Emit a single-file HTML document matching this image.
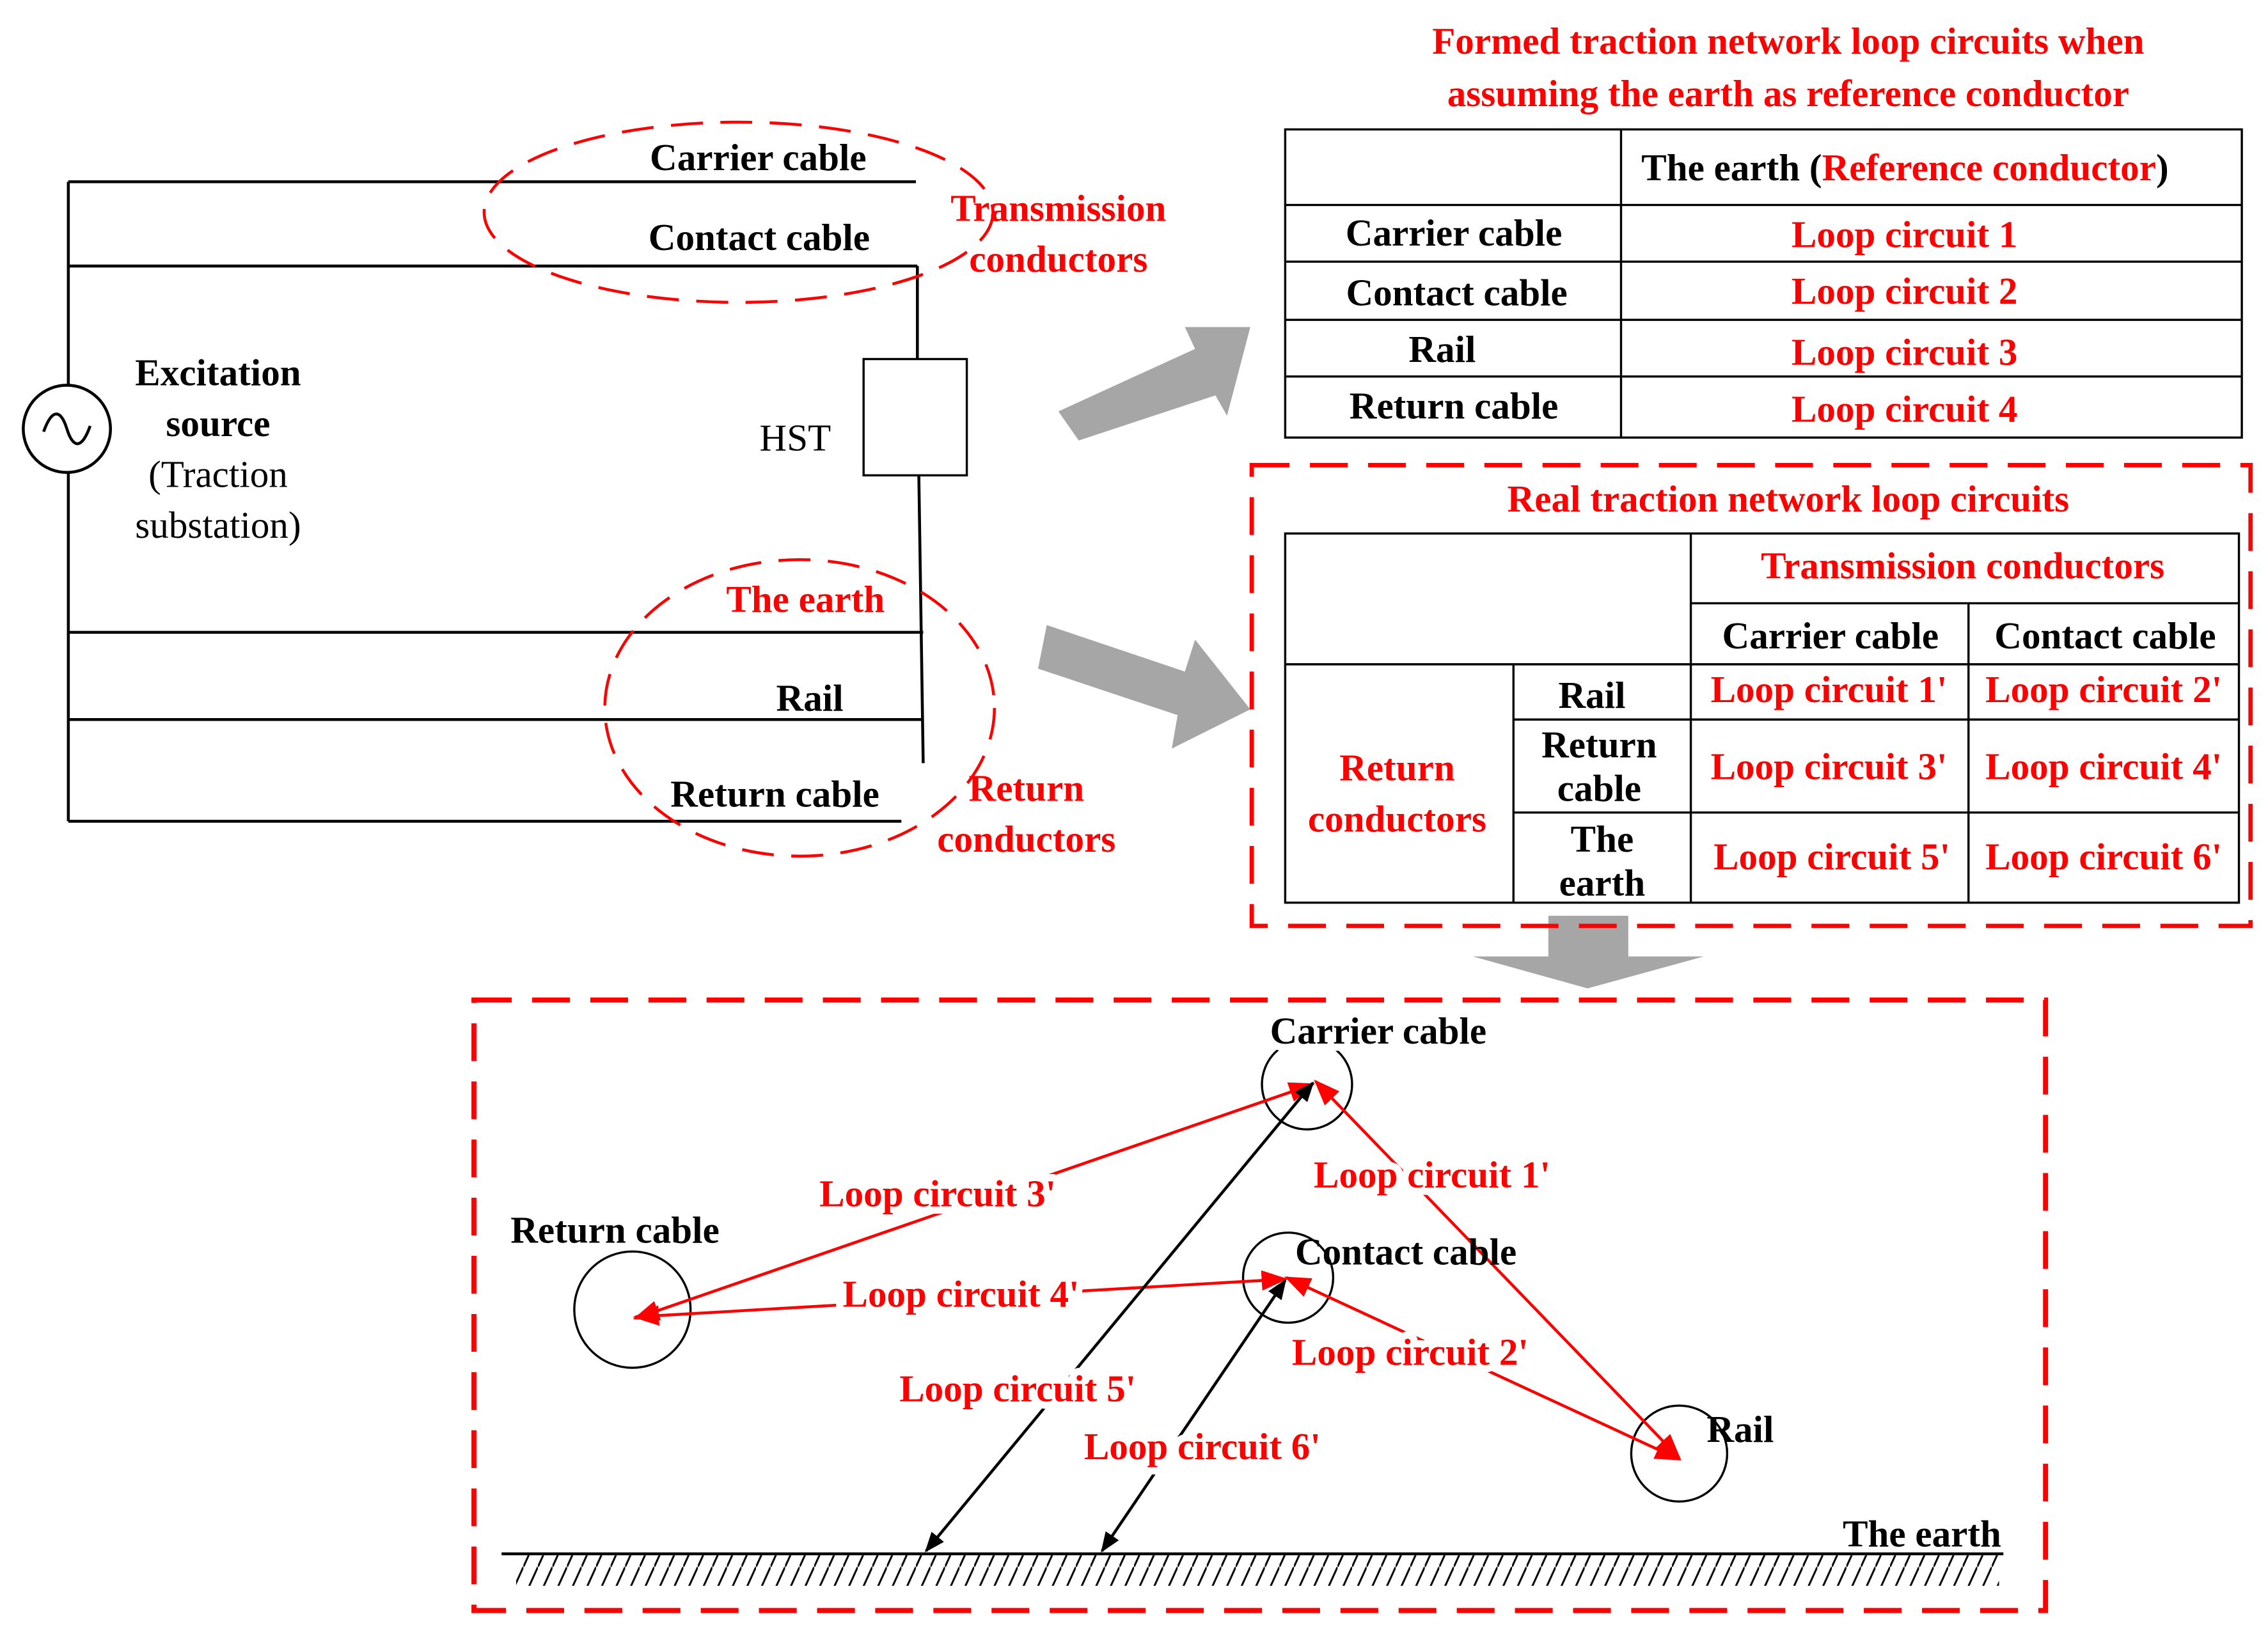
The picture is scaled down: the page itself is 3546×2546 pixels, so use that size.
<!DOCTYPE html>
<html><head><meta charset="utf-8"><style>
html,body{margin:0;padding:0;background:#fff;}
svg{display:block;}
text{font-family:"Liberation Serif",serif;}
.b{font-weight:bold;font-size:26px;fill:#000;}
.r{font-weight:bold;font-size:26px;fill:#f00;}
.n{font-size:26px;fill:#000;}
.m{paint-order:stroke;stroke:#fff;stroke-width:10px;stroke-linejoin:round;}
</style></head><body>
<svg width="3546" height="2546" viewBox="0 0 1560 1120" xmlns="http://www.w3.org/2000/svg">
<defs>
<marker id="ar" viewBox="0 0 10 10" refX="9" refY="5" markerWidth="18" markerHeight="14" orient="auto-start-reverse" markerUnits="userSpaceOnUse" preserveAspectRatio="none"><path d="M0,0 L10,5 L0,10 Z" fill="#f00"/></marker>
<marker id="ab" viewBox="0 0 10 10" refX="9" refY="5" markerWidth="14" markerHeight="11" orient="auto-start-reverse" markerUnits="userSpaceOnUse" preserveAspectRatio="none"><path d="M0,0 L10,5 L0,10 Z" fill="#000"/></marker>
<pattern id="h" width="10" height="22" patternUnits="userSpaceOnUse"><line x1="0" y1="22" x2="10" y2="0" stroke="#000" stroke-width="1.3"/></pattern>
</defs>
<rect width="1560" height="1120" fill="#fff"/>

<g stroke="#000" stroke-width="2" fill="none">
<line x1="47" y1="125" x2="630" y2="125"/>
<line x1="47" y1="183" x2="631" y2="183"/>
<line x1="47" y1="125" x2="47" y2="565"/>
<line x1="631" y1="183" x2="631" y2="247"/>
<rect x="594" y="247" width="71" height="80" stroke-width="1.5"/>
<line x1="632" y1="327" x2="635" y2="525"/>
<line x1="47" y1="435" x2="635" y2="435"/>
<line x1="47" y1="495" x2="635" y2="495"/>
<line x1="47" y1="565" x2="620" y2="565"/>
<circle cx="46" cy="295" r="30" fill="#fff"/>
<path d="M30,297 C36,280 42,282 46,295 C50,308 56,310 62,293"/>
</g>
<text class="b" x="447" y="117">Carrier cable</text>
<text class="b" x="446" y="172">Contact cable</text>
<text class="b" x="150" y="265" text-anchor="middle">Excitation</text>
<text class="b" x="150" y="300" text-anchor="middle">source</text>
<text class="n" x="150" y="335" text-anchor="middle">(Traction</text>
<text class="n" x="150" y="370" text-anchor="middle">substation)</text>
<text class="n" x="547" y="310" text-anchor="middle">HST</text>
<ellipse cx="508" cy="146" rx="175" ry="62" fill="none" stroke="#f00" stroke-width="2" stroke-dasharray="22,12"/>
<text class="r" x="728" y="152" text-anchor="middle">Transmission</text>
<text class="r" x="728" y="187" text-anchor="middle">conductors</text>
<ellipse cx="550" cy="487" rx="134" ry="102" fill="none" stroke="#f00" stroke-width="2" stroke-dasharray="22,12"/>
<text class="r" x="554" y="421" text-anchor="middle">The earth</text>
<text class="b" x="557" y="489" text-anchor="middle">Rail</text>
<text class="b" x="533" y="555" text-anchor="middle">Return cable</text>
<text class="r" x="706" y="551" text-anchor="middle">Return</text>
<text class="r" x="706" y="586" text-anchor="middle">conductors</text>

<g fill="#a6a6a6">
<polygon points="728,283 822,240 815,225 860,225 844,286 836,272 742,303"/>
<polygon points="720,430 815,462 822,440 860,488 806,515 810,492 714,460"/>
<polygon points="1065,630 1120,630 1120,658 1172,658 1092,680 1013,658 1065,658"/>
</g>

<text class="r" x="1230" y="37" text-anchor="middle">Formed traction network loop circuits when</text>
<text class="r" x="1230" y="73" text-anchor="middle">assuming the earth as reference conductor</text>
<g stroke="#000" stroke-width="1.5" fill="none">
<rect x="884" y="89" width="658" height="212"/>
<line x1="1115" y1="89" x2="1115" y2="301"/>
<line x1="884" y1="141" x2="1542" y2="141"/>
<line x1="884" y1="180" x2="1542" y2="180"/>
<line x1="884" y1="220" x2="1542" y2="220"/>
<line x1="884" y1="259" x2="1542" y2="259"/>
</g>
<text class="b" x="1129" y="124">The earth (<tspan fill="#f00">Reference conductor</tspan>)</text>
<text class="b" x="1000" y="169" text-anchor="middle">Carrier cable</text>
<text class="b" x="1002" y="210" text-anchor="middle">Contact cable</text>
<text class="b" x="992" y="249" text-anchor="middle">Rail</text>
<text class="b" x="1000" y="288" text-anchor="middle">Return cable</text>
<text class="r" x="1310" y="170" text-anchor="middle">Loop circuit 1</text>
<text class="r" x="1310" y="209" text-anchor="middle">Loop circuit 2</text>
<text class="r" x="1310" y="251" text-anchor="middle">Loop circuit 3</text>
<text class="r" x="1310" y="290" text-anchor="middle">Loop circuit 4</text>

<rect x="861" y="320" width="687" height="317" fill="none" stroke="#f00" stroke-width="3" stroke-dasharray="26,14"/>
<text class="r" x="1230" y="352" text-anchor="middle">Real traction network loop circuits</text>
<g stroke="#000" stroke-width="1.5" fill="none">
<rect x="884" y="367" width="656" height="254"/>
<line x1="1163" y1="415" x2="1540" y2="415"/>
<line x1="884" y1="457" x2="1540" y2="457"/>
<line x1="1163" y1="367" x2="1163" y2="621"/>
<line x1="1354" y1="415" x2="1354" y2="621"/>
<line x1="1041" y1="457" x2="1041" y2="621"/>
<line x1="1041" y1="495" x2="1540" y2="495"/>
<line x1="1041" y1="559" x2="1540" y2="559"/>
</g>
<text class="r" x="1350" y="398" text-anchor="middle">Transmission conductors</text>
<text class="b" x="1259" y="446" text-anchor="middle">Carrier cable</text>
<text class="b" x="1448" y="446" text-anchor="middle">Contact cable</text>
<text class="r" x="961" y="537" text-anchor="middle">Return</text>
<text class="r" x="961" y="572" text-anchor="middle">conductors</text>
<text class="b" x="1095" y="487" text-anchor="middle">Rail</text>
<text class="b" x="1100" y="521" text-anchor="middle">Return</text>
<text class="b" x="1100" y="551" text-anchor="middle">cable</text>
<text class="b" x="1102" y="586" text-anchor="middle">The</text>
<text class="b" x="1102" y="616" text-anchor="middle">earth</text>
<text class="r" x="1258" y="483" text-anchor="middle">Loop circuit 1'</text>
<text class="r" x="1447" y="483" text-anchor="middle">Loop circuit 2'</text>
<text class="r" x="1258" y="536" text-anchor="middle">Loop circuit 3'</text>
<text class="r" x="1447" y="536" text-anchor="middle">Loop circuit 4'</text>
<text class="r" x="1260" y="598" text-anchor="middle">Loop circuit 5'</text>
<text class="r" x="1447" y="598" text-anchor="middle">Loop circuit 6'</text>

<rect x="326" y="688" width="1081" height="420" fill="none" stroke="#f00" stroke-width="3.5" stroke-dasharray="26,14"/>
<rect x="355" y="1070" width="1020" height="21" fill="url(#h)"/>
<line x1="345" y1="1069" x2="1378" y2="1069" stroke="#000" stroke-width="2"/>
<g stroke="#000" stroke-width="1.5" fill="none">
<circle cx="899" cy="746" r="31"/>
<circle cx="435" cy="901" r="40"/>
<circle cx="886" cy="879" r="31"/>
<circle cx="1155" cy="1000" r="33"/>
</g>
<g stroke-width="2" fill="none">
<line x1="903" y1="746" x2="437" y2="907" stroke="#f00" marker-start="url(#ar)" marker-end="url(#ar)"/>
<line x1="884" y1="880" x2="437" y2="906" stroke="#f00" marker-start="url(#ar)" marker-end="url(#ar)"/>
<line x1="905" y1="744" x2="1155" y2="1003" stroke="#f00" marker-start="url(#ar)" marker-end="url(#ar)"/>
<line x1="885" y1="879" x2="1155" y2="1004" stroke="#f00" marker-start="url(#ar)" marker-end="url(#ar)"/>
<line x1="903" y1="745" x2="637" y2="1067" stroke="#000" marker-start="url(#ab)" marker-end="url(#ab)"/>
<line x1="884" y1="881" x2="758" y2="1067" stroke="#000" marker-start="url(#ab)" marker-end="url(#ab)"/>
</g>
<text class="b m" x="948" y="718" text-anchor="middle">Carrier cable</text>
<text class="b m" x="423" y="855" text-anchor="middle">Return cable</text>
<text class="b" x="967" y="870" text-anchor="middle">Contact cable</text>
<text class="b" x="1197" y="992" text-anchor="middle">Rail</text>
<text class="b" x="1322" y="1064" text-anchor="middle">The earth</text>
<text class="r m" x="645" y="830" text-anchor="middle">Loop circuit 3'</text>
<text class="r m" x="985" y="817" text-anchor="middle">Loop circuit 1'</text>
<text class="r m" x="661" y="899" text-anchor="middle">Loop circuit 4'</text>
<text class="r m" x="970" y="939" text-anchor="middle">Loop circuit 2'</text>
<text class="r m" x="700" y="964" text-anchor="middle">Loop circuit 5'</text>
<text class="r m" x="827" y="1004" text-anchor="middle">Loop circuit 6'</text>
</svg>
</body></html>
